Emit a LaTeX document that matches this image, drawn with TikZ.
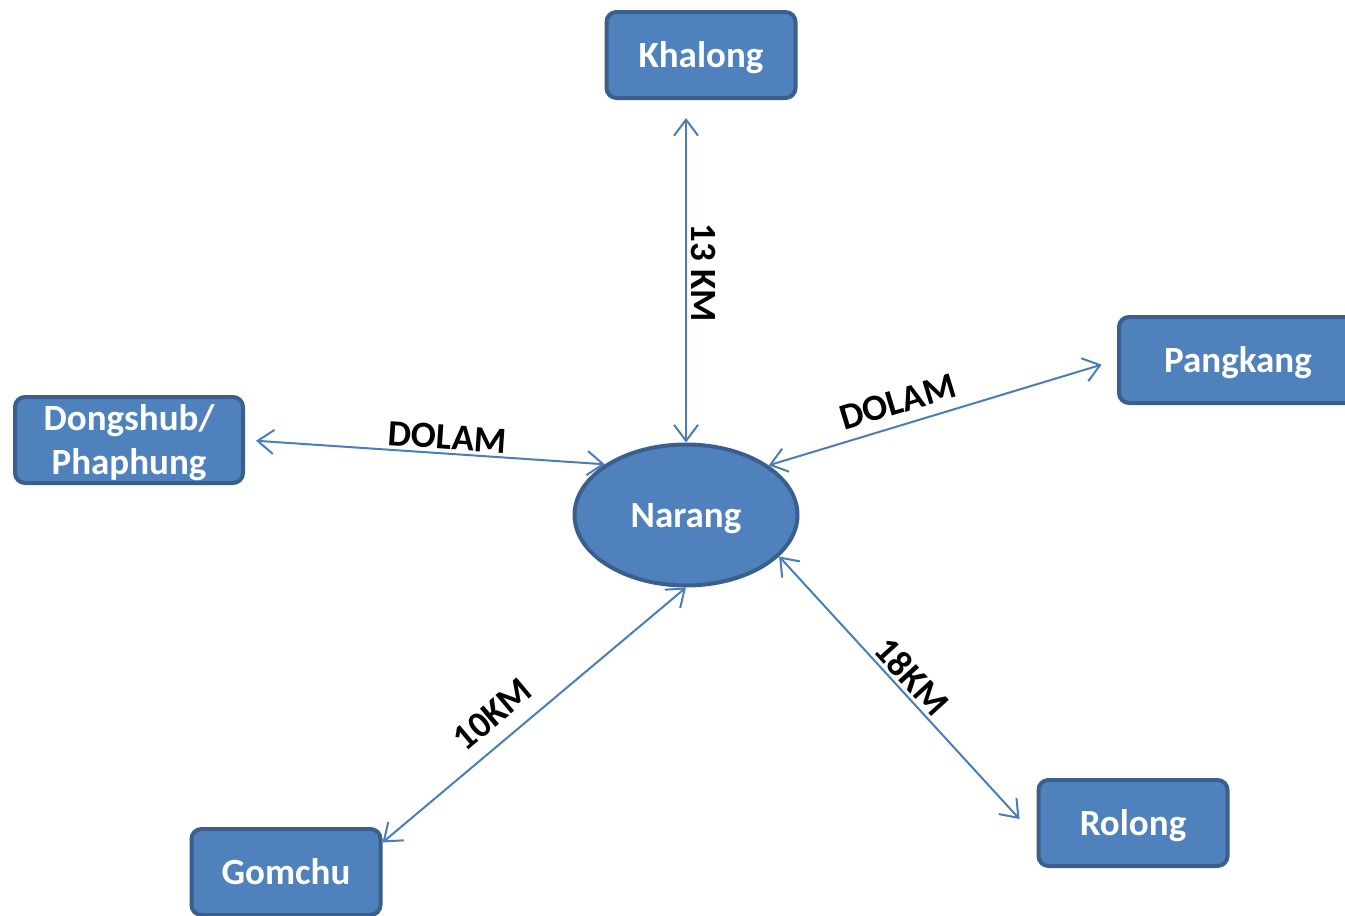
\documentclass[tikz,border=0pt]{standalone}
\usepackage{fontspec}
\setmainfont{Carlito}
\usetikzlibrary{arrows.meta,shapes.geometric}

\begin{document}
\begin{tikzpicture}[x=0.5pt,y=-0.5pt,
  town/.style={draw=kBorder,fill=kBlue,line width=2pt,rounded corners=5pt,
    minimum width=94.5pt,minimum height=43pt,inner sep=0pt,text=white,text depth=0pt,
    font=\fontsize{18.5}{22}\selectfont\bfseries,align=center},
  hub/.style={ellipse,draw=kBorder,fill=kBlue,line width=2pt,
    minimum width=111.5pt,minimum height=70.5pt,inner sep=0pt,text=white,text depth=0pt,
    font=\fontsize{18.5}{22}\selectfont\bfseries},
  road/.style={color=kRoad,line width=1pt,
    {Straight Barb[length=8pt,width=12pt]}-{Straight Barb[length=8pt,width=12pt]}},
  dist/.style={font=\fontsize{18.5}{22}\selectfont\bfseries,text=black,inner sep=0pt}]
  \definecolor{kBlue}{HTML}{4F81BD}
  \definecolor{kBorder}{HTML}{3A5F8C}
  \definecolor{kRoad}{HTML}{4A7EBB}

  \useasboundingbox (0,0) rectangle (1345,916);

  % places
  \node[hub] (narang) at (686,515) {Narang};
  \node[town] (khalong) at (701,55) {Khalong};
  \node[town,minimum width=119pt] (pangkang) at (1238,360) {Pangkang};
  \node[town,minimum width=114pt] (dongshub) at (129,440) {Dongshub/\\Phaphung};
  \node[town] (gomchu) at (286,872) {Gomchu};
  \node[town] (rolong) at (1133,823) {Rolong};

  % roads
  \draw[road,shorten <=9pt] (narang.north |- khalong.south) -- (narang.north)
    node[dist,pos=0.505,rotate=-90,anchor=south,inner sep=2pt] {13 KM};
  \draw[road,shorten <=5.5pt] (dongshub.east) -- (narang.148)
    node[dist,sloped,pos=0.56,above=1.5pt] {DOLAM};
  \draw[road,shorten <=8pt] (pangkang.west) -- (narang.31)
    node[dist,sloped,pos=0.61,above=5pt] {DOLAM};
  \draw[road] (gomchu.17) -- (narang.south)
    node[dist,sloped,pos=0.42,above=7pt] {10KM};
  \draw[road] ([xshift=-8.5pt,yshift=2pt]rolong.west) -- (narang.-24)
    node[dist,sloped,pos=0.50,above=1.5pt] {18KM};

\end{tikzpicture}
\end{document}
